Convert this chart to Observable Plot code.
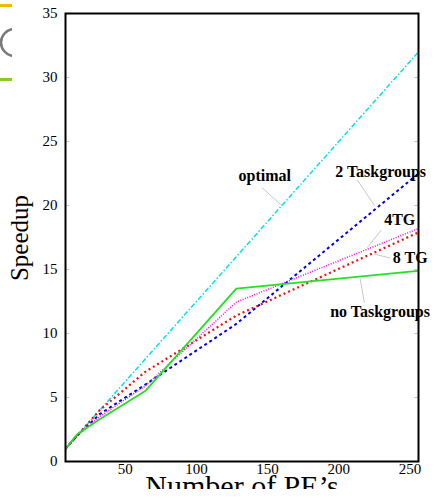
<!DOCTYPE html>
<html><head><meta charset="utf-8">
<script src="https://cdn.jsdelivr.net/npm/d3@7"></script>
<script src="https://cdn.jsdelivr.net/npm/@observablehq/plot@0.6"></script>
<style>body{margin:0;background:#fff;} svg{display:block;overflow:hidden}</style>
</head><body><div id="chart"></div>
<script>
const pes = [8, 16, 32, 64, 128, 256];
const optimal = [1, 2, 4, 8, 16, 32];
const twoTG = [1, 2.0, 3.7, 6.0, 10.75, 22.5];
const fourTG = [1, 2.0, 3.5, 5.9, 12.45, 18.2];
const eightTG = [1, 2.0, 4.0, 7.0, 11.4, 17.9];
const noTG = [1, 2.1, 3.3, 5.5, 13.5, 14.9];
const xTicks = [50, 100, 150, 200, 250];
const yTicks = [0, 5, 10, 15, 20, 25, 30, 35];
const labels = ["optimal", "2 Taskgroups", "4TG", "8 TG", "no Taskgroups"];
const labelX = [148, 229.4, 242.8, 250.2, 229];
const labelY = [22.3, 22.6, 18.9, 15.9, 11.7];
const leadX1 = [146, 213, 230, 236, 218];
const leadY1 = [21.4, 22.0, 18.1, 15.9, 12.4];
const leadX2 = [160, 225, 220, 225, 215];
const leadY2 = [20.0, 20.0, 16.7, 16.2, 14.3];

const series = [
  {name: "optimal", values: optimal, stroke: "#00e0f0", dash: "5,2,1.5,2", width: 1.5},
  {name: "2 Taskgroups", values: twoTG, stroke: "#0000e0", dash: "3,3", width: 2},
  {name: "8 TG", values: eightTG, stroke: "#ee1111", dash: "2,3", width: 2.2},
  {name: "4TG", values: fourTG, stroke: "#ff00ff", dash: "1,1.5", width: 1.5},
  {name: "no Taskgroups", values: noTG, stroke: "#22e022", dash: null, width: 1.8}
];

const labelData = labels.map((t, i) => ({t, x: labelX[i], y: labelY[i]}));
const leadData = labels.map((t, i) => ({x1: leadX1[i], y1: leadY1[i], x2: leadX2[i], y2: leadY2[i]}));

const W = 434, H = 497;
const svg = Plot.plot({
  width: W, height: H,
  marginLeft: 65, marginRight: 16, marginTop: 13, marginBottom: 36,
  style: {fontFamily: "Liberation Serif", fontSize: "15px", background: "#fff", color: "#000"},
  x: {domain: [8, 256]},
  y: {domain: [0, 35]},
  marks: [
    Plot.tickY(yTicks, {y: d => d, stroke: "#ccc", insetRight: 349}),
    Plot.tickY(yTicks, {y: d => d, stroke: "#ccc", insetLeft: 349}),
    Plot.axisX({ticks: xTicks, tickSize: 0, tickPadding: 2, label: null, fontSize: 15}),
    Plot.axisY({ticks: yTicks, tickSize: 0, tickPadding: 8, label: null, fontSize: 15}),
    Plot.link(leadData, {x1: "x1", y1: "y1", x2: "x2", y2: "y2", stroke: "#c8c8c8", strokeWidth: 1}),
    ...series.map(s => Plot.line(pes.map((p, i) => ({x: p, y: s.values[i]})), {
      x: "x", y: "y", stroke: s.stroke, strokeWidth: s.width,
      strokeDasharray: s.dash, strokeLinecap: "butt", clip: true
    })),
    Plot.frame({stroke: "#000", strokeWidth: 2}),
    Plot.text(labelData, {x: "x", y: "y", text: "t", fontSize: 16, fontWeight: "bold", fill: "#000"})
  ]
});

const s = d3.select(svg);
s.append("defs").append("clipPath").attr("id", "titleclip")
  .append("rect").attr("x", 0).attr("y", 0).attr("width", W).attr("height", 489);
s.append("text").attr("transform", "translate(28,238) rotate(-90)")
  .attr("text-anchor", "middle").attr("font-family", "Liberation Serif")
  .attr("font-size", 25).attr("fill", "#000").text("Speedup");
s.append("g").attr("clip-path", "url(#titleclip)")
  .append("text").attr("x", 242).attr("y", 496)
  .attr("text-anchor", "middle").attr("font-family", "Liberation Serif")
  .attr("font-size", 30).attr("fill", "#000").text("Number of PE’s");
// cropped legend fragments at top-left
s.append("rect").attr("x", 0).attr("y", 4).attr("width", 12).attr("height", 3).attr("fill", "#f5b800");
s.append("path").attr("d", "M12,29 A15,14 0 0 0 12,56").attr("fill", "none").attr("stroke", "#7a7a7a").attr("stroke-width", 2.6);
s.append("rect").attr("x", 0).attr("y", 78).attr("width", 12).attr("height", 3).attr("fill", "#88cc22");

document.getElementById("chart").appendChild(svg);
</script>
</body></html>
